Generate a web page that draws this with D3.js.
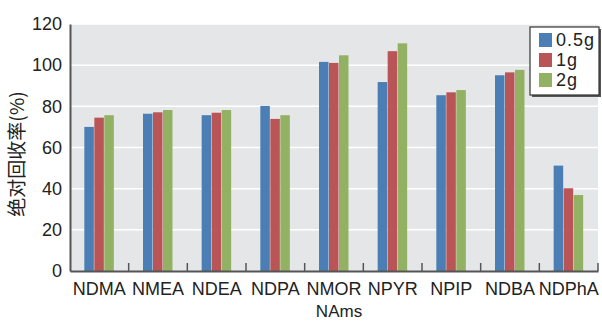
<!DOCTYPE html>
<html><head><meta charset="utf-8">
<script src="https://cdn.jsdelivr.net/npm/d3@7"></script>
<style>body{margin:0;background:#fff}svg{display:block}text{font-family:"Liberation Sans",Arial,sans-serif;fill:#222}</style>
</head><body>
<script>
const categories = ["NDMA","NMEA","NDEA","NDPA","NMOR","NPYR","NPIP","NDBA","NDPhA"];
const seriesNames = ["0.5g","1g","2g"];
const s05 = [70.0, 76.4, 75.7, 80.2, 101.6, 91.8, 85.4, 95.1, 51.2];
const s1  = [74.5, 77.1, 76.9, 73.9, 101.1, 106.8, 86.8, 96.5, 40.2];
const s2  = [75.7, 78.2, 78.2, 75.7, 104.8, 110.6, 87.9, 97.7, 36.9];
const yTicks = [0,20,40,60,80,100,120];
const colors = ["#4a7eb5","#b95457","#93b163"];
const seriesVals = [s05, s1, s2];

const W=602,H=323;
const m={l:70,r:4,t:24,b:52};
const svg=d3.select("body").append("svg").attr("width",W).attr("height",H);
const x=d3.scaleBand().domain(categories).range([m.l,W-m.r]);
const y=d3.scaleLinear().domain([0,120]).range([H-m.b,m.t]);
const groupW=30, off=(x.bandwidth()-groupW)/2;
const xsub=d3.scaleBand().domain(seriesNames).range([off,off+groupW]);

svg.append("rect").attr("x",m.l).attr("y",m.t).attr("width",W-m.r-m.l).attr("height",H-m.b-m.t).attr("fill","#e5e6e8");
// grid
svg.append("g").selectAll("line").data(yTicks.filter(d=>d>0)).join("line")
 .attr("x1",m.l).attr("x2",W-m.r).attr("y1",d=>y(d)).attr("y2",d=>y(d)).attr("stroke","#fff").attr("stroke-width",1.5);

// bars
const g=svg.append("g");
seriesNames.forEach((s,i)=>{
  g.append("g").selectAll("rect").data(categories).join("rect")
   .attr("x",c=>x(c)+xsub(s)).attr("width",xsub.bandwidth()-0.5)
   .attr("y",(c,j)=>y(seriesVals[i][j])).attr("height",(c,j)=>y(0)-y(seriesVals[i][j]))
   .attr("fill",colors[i]);
});

// y axis
const ya=svg.append("g").attr("transform",`translate(${m.l},0)`).call(d3.axisLeft(y).tickValues(yTicks).tickSize(0).tickPadding(8));
ya.select(".domain").attr("stroke","#555").attr("stroke-width",2);
ya.selectAll("text").style("font-size","18px").attr("fill","#222");
// x axis
const xa=svg.append("g").attr("transform",`translate(0,${y(0)})`).call(d3.axisBottom(x).tickSize(0).tickPadding(11));
xa.select(".domain").attr("stroke","#555").attr("stroke-width",2);
xa.selectAll("text").style("font-size","18px").attr("fill","#222");
// category boundary ticks
svg.append("g").selectAll("line").data(categories).join("line")
 .attr("x1",c=>x(c)+x.bandwidth()).attr("x2",c=>x(c)+x.bandwidth())
 .attr("y1",y(0)).attr("y2",y(0)-8).attr("stroke","#555").attr("stroke-width",1.5);

// axis titles
svg.append("text").attr("x",(m.l+W-m.r)/2+5).attr("y",317).attr("text-anchor","middle").style("font-size","17px").text("NAms");
svg.append("text").attr("transform",`translate(24,${154}) rotate(-90)`).attr("text-anchor","middle")
 .style("font-size","19px").style("font-family","'Noto Sans CJK SC',sans-serif").attr("fill","#333").text("绝对回收率(%)");

// legend
const lg=svg.append("g").attr("transform","translate(530,27)");
lg.append("rect").attr("x",2).attr("y",2).attr("width",69).attr("height",68).attr("fill","#555");
lg.append("rect").attr("x",0).attr("y",0).attr("width",69).attr("height",68).attr("fill","#fff").attr("stroke","#333").attr("stroke-width",1.2);
seriesNames.forEach((s,i)=>{
  lg.append("rect").attr("x",9).attr("y",6+i*20).attr("width",13).attr("height",14).attr("fill",colors[i]);
  lg.append("text").attr("x",26).attr("y",19+i*20).style("font-size","18px").style("letter-spacing","1px").text(s);
});
</script>
</body></html>
